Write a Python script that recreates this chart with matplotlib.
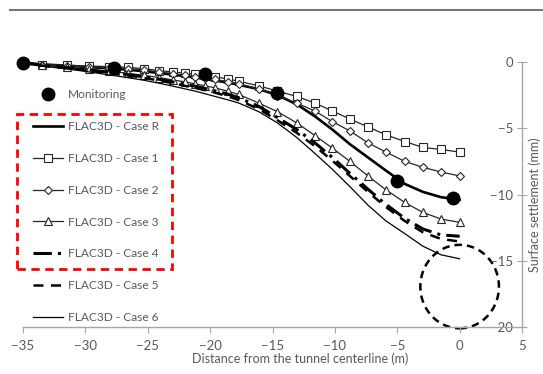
import matplotlib
matplotlib.use("Agg")
import matplotlib.pyplot as plt
from matplotlib.lines import Line2D
from matplotlib.patches import Rectangle, Ellipse

plt.rcParams["font.family"] = ["Lato", "DejaVu Sans"]

# FLAC3D grid positions along the surface (m)
dist = [-35, -33.5, -31.5, -29.7, -28.1, -26.6, -25.3, -24.1, -23.0, -22.0, -21.2, -20.4, -19.6,
        -18.6, -17.7, -16.1, -14.6, -13.05, -11.6, -10.2, -8.8, -7.35, -5.9, -4.4, -2.95, -1.5, 0]

# surface settlement (mm) for each case
case_r = [-0.05, -0.18, -0.28, -0.38, -0.48, -0.58, -0.7, -0.83, -0.95, -1.07, -1.17, -1.28, -1.4,
          -1.55, -1.72, -2.05, -2.5, -3.2, -4.1, -5.1, -6.2, -7.2, -8.2, -9.2, -9.8, -10.2, -10.4]
case_1 = [-0.05, -0.2, -0.25, -0.3, -0.35, -0.4, -0.5, -0.65, -0.75, -0.85, -0.93, -1.0, -1.12,
          -1.28, -1.45, -1.8, -2.2, -2.6, -3.1, -3.7, -4.3, -4.9, -5.5, -6.0, -6.45, -6.6, -6.8]
case_2 = [-0.05, -0.2, -0.28, -0.35, -0.42, -0.5, -0.6, -0.75, -0.88, -1.0, -1.1, -1.2, -1.32,
          -1.48, -1.65, -2.05, -2.55, -3.1, -3.7, -4.5, -5.2, -6.1, -6.8, -7.5, -7.95, -8.3, -8.6]
case_3 = [-0.05, -0.25, -0.4, -0.55, -0.7, -0.85, -1.0, -1.18, -1.35, -1.5, -1.65, -1.8, -1.95,
          -2.2, -2.45, -3.1, -3.75, -4.6, -5.55, -6.5, -7.5, -8.6, -9.65, -10.6, -11.35, -11.85, -12.1]
case_4 = [-0.05, -0.25, -0.42, -0.6, -0.78, -0.95, -1.12, -1.3, -1.5, -1.68, -1.83, -2.0, -2.18,
          -2.42, -2.7, -3.35, -4.2, -5.1, -6.1, -7.2, -8.4, -9.6, -10.75, -11.8, -12.6, -13.05, -13.15]
case_5 = [-0.05, -0.28, -0.46, -0.65, -0.84, -1.02, -1.2, -1.4, -1.6, -1.8, -1.96, -2.13, -2.32,
          -2.58, -2.88, -3.55, -4.4, -5.35, -6.35, -7.45, -8.6, -9.8, -10.95, -12.0, -12.85, -13.35, -13.55]
case_6 = [-0.05, -0.3, -0.52, -0.75, -0.97, -1.18, -1.38, -1.6, -1.82, -2.03, -2.2, -2.4, -2.6,
          -2.85, -3.1, -3.75, -4.6, -5.7, -6.9, -8.1, -9.4, -10.8, -12.0, -12.95, -13.9, -14.55, -14.85]

# field monitoring points
mon_dist = [-35, -27.7, -20.4, -14.6, -5.0, -0.5]
mon_settle = [-0.05, -0.45, -0.9, -2.35, -9.0, -10.3]

W, H = 543, 374
TXT = "#595959"
fig = plt.figure(figsize=(W / 100, H / 100), dpi=100)
ax = fig.add_axes([23 / W, 47 / H, 499 / W, 265 / H])

ax.plot(dist, case_r, color="black", lw=1.9, label="FLAC3D - Case R")
ax.plot(dist, case_1, color="#262626", lw=0.9, marker="s", ms=6.3, mfc="white", mec="#262626",
        mew=0.8, label="FLAC3D - Case 1", clip_on=False)
ax.plot(dist, case_2, color="#262626", lw=0.9, marker="D", ms=4, mfc="white", mec="#262626",
        mew=0.8, label="FLAC3D - Case 2")
ax.plot(dist, case_3, color="#262626", lw=0.9, marker="^", ms=5.8, mfc="white", mec="#262626",
        mew=0.8, label="FLAC3D - Case 3")
ax.plot(dist, case_4, color="black", lw=2.2, ls=(0, (6, 2, 1, 2)), label="FLAC3D - Case 4")
ax.plot(dist, case_5, color="black", lw=1.8, ls=(0, (4, 3)), label="FLAC3D - Case 5")
ax.plot(dist, case_6, color="black", lw=0.9, label="FLAC3D - Case 6")
ax.plot(mon_dist, mon_settle, ls="none", marker="o", ms=9, color="black", label="Monitoring",
        clip_on=False, zorder=5)

# tunnel outline
ax.add_patch(Ellipse((0, -16.95), 6.3, 6.3, fill=False, ec="black", lw=1.8, ls=(0, (3, 2)),
                     clip_on=False))

ax.set_xlim(-35, 5)
ax.set_ylim(-20, 0)
ax.set_xticks(range(-35, 6, 5))
ax.set_yticks(range(-20, 1, 5))

for side in ("top", "right"):
    ax.spines[side].set_visible(False)
ax.spines["left"].set_position(("data", 5))
for side in ("left", "bottom"):
    ax.spines[side].set_color("#a6a6a6")
    ax.spines[side].set_linewidth(1)
ax.tick_params(axis="x", direction="out", length=4, color="#a6a6a6", labelsize=9.5,
               labelcolor=TXT, pad=5)
ax.tick_params(axis="y", direction="inout", length=7, color="#a6a6a6", labelsize=9.5,
               labelcolor=TXT, pad=3)

ax.set_xlabel("Distance from the tunnel centerline (m)", fontsize=9, color=TXT)
ax.xaxis.set_label_coords((300 - 23) / 499, -0.095)
ax.set_ylabel("Surface settlement (mm)", fontsize=9, color=TXT, rotation=90)
ax.yaxis.set_label_coords((541 - 23) / 499, 0.46)

# legend, monitoring first
handles, labels = ax.get_legend_handles_labels()
order = [7, 0, 1, 2, 3, 4, 5, 6]
fig.legend([handles[i] for i in order], [labels[i] for i in order], loc="upper left",
           bbox_to_anchor=(27 / W, 1 - 83 / H), frameon=False, fontsize=8.6,
           handlelength=2.55, handletextpad=0.35, labelspacing=1.75, borderpad=0,
           labelcolor=TXT)

fig.patches.append(Rectangle((17 / W, 1 - 269 / H), 155 / W, 155 / H, transform=fig.transFigure,
                             fill=False, ec="#ff0000", lw=2, ls=(0, (3, 2))))
fig.lines.append(Line2D([10 / W, 1], [1 - 10 / H, 1 - 10 / H], transform=fig.transFigure,
                        color="#777777", lw=1.5))

fig.savefig("out.png", dpi=100)
